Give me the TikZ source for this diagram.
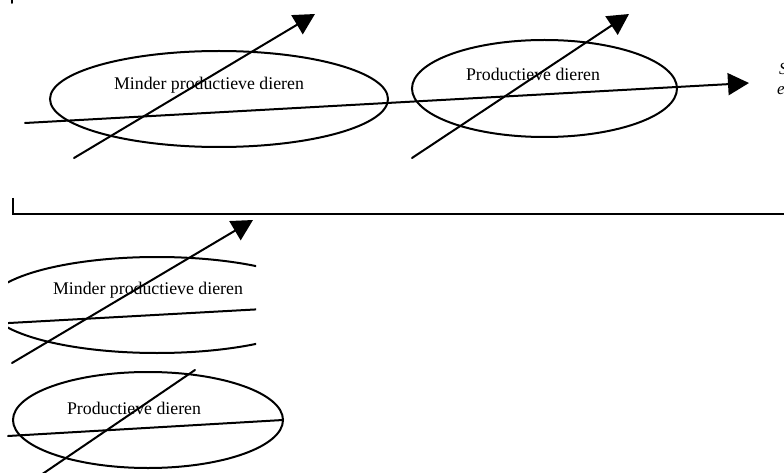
\documentclass[tikz,border=0pt]{standalone}
\usepackage{fontspec}
\setmainfont{Liberation Serif}
\usetikzlibrary{arrows.meta,shapes.geometric}
\tikzset{
  ln/.style={line width=2pt, line cap=round},
  arr/.style={ln, -{Triangle[length=21pt,width=22pt]}},
  oval/.style={draw, line width=2pt, ellipse, inner sep=0pt},
  lbl/.style={font=\fontsize{17.8}{20}\selectfont, inner sep=0pt},
  side/.style={font=\fontsize{17}{19}\selectfont\itshape, inner sep=0pt, anchor=base west}
}
\begin{document}
\begin{tikzpicture}[x=1pt,y=-1pt]
\useasboundingbox (0,0) rectangle (784,473);
\clip (0,0) rectangle (784,473);
% top-left tick
\coordinate (t0) at (12,0);
\coordinate (t1) at (12,3);
\draw[ln] (t0) -- (t1);
% ---- top row ----
\node[oval, minimum width=338pt, minimum height=96pt] (e1) at (219,99) {};
\node[lbl] (l1) at (209,85) {Minder productieve dieren};
\node[oval, minimum width=265pt, minimum height=97pt] (e2) at (544.5,88.5) {};
\node[lbl] (l2) at (533,74) {Productieve dieren};
\coordinate (h0) at (25,123);
\coordinate (h1) at (749,83);
\draw[arr] (h0) -- (h1);
\coordinate (d1a) at (74,158);
\coordinate (d1b) at (315,14);
\draw[arr] (d1a) -- (d1b);
\coordinate (d2a) at (412,158);
\coordinate (d2b) at (629,14);
\draw[arr] (d2a) -- (d2b);
\node[side] (s1) at (779,75) {S};
\node[side] (s2) at (777,95) {e};
% bracket line
\coordinate (b0) at (13,198);
\coordinate (b1) at (13,214);
\coordinate (b2) at (790,214);
\draw[line width=2pt] (b0) -- (b1) -- (b2);
% ---- bottom: clipped copy of first group ----
\begin{scope}
\clip (8,0) rectangle (256,473);
\node[oval, minimum width=338pt, minimum height=96pt] (e3) at (157,305) {};
\coordinate (h2) at (0,323.5);
\coordinate (h3) at (300,307);
\draw[ln] (h2) -- (h3);
\coordinate (d3a) at (12,363);
\coordinate (d3b) at (253,220);
\draw[arr] (d3a) -- (d3b);
\end{scope}
\node[lbl] (l3) at (148,290) {Minder productieve dieren};
% ---- bottom: second ellipse ----
\node[oval, minimum width=270pt, minimum height=96pt] (e4) at (148,420) {};
\node[lbl] (l4) at (134,408) {Productieve dieren};
\coordinate (h4) at (8,436);
\coordinate (h5) at (283,420);
\draw[ln] (h4) -- (h5);
\coordinate (d4a) at (38,477);
\coordinate (d4b) at (195,370);
\draw[ln] (d4a) -- (d4b);
\end{tikzpicture}
\end{document}
